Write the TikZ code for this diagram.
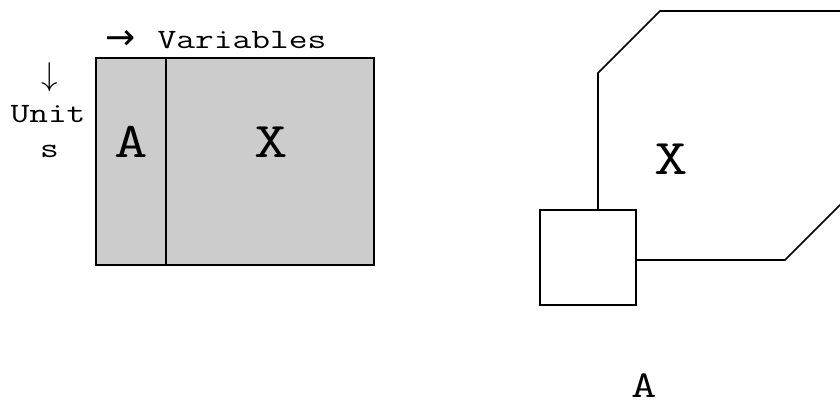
\documentclass[tikz,border=0pt]{standalone}
\usepackage{fontspec}
\usepackage{graphicx}
\newfontfamily\symfont{DejaVu Sans}
\definecolor{cellgray}{HTML}{CCCCCC}
% typewriter letters set a little wider than Latin Modern Mono's own
\newcommand\wideText[1]{\scalebox{1.3}[1]{#1}}
\begin{document}
\begin{tikzpicture}[x=1pt,y=-1pt,
  txt/.style={inner sep=0pt, anchor=base, font=\ttfamily\fontsize{28}{33}\selectfont},
  big/.style={inner sep=0pt, anchor=base, font=\ttfamily\fontsize{50}{58}\selectfont},
  mid/.style={inner sep=0pt, anchor=base, font=\ttfamily\fontsize{38}{44}\selectfont},
  outline/.style={draw=black, line width=1.6pt},
]
\useasboundingbox (0,0) rectangle (840,403);
\clip (0,0) rectangle (840,403);

% data matrix: units by variables, split into A and X
\path[outline, fill=cellgray] (96,58) rectangle (374,265);
\coordinate (divtop) at (166,58);
\coordinate (divbot) at (166,265);
\draw[outline] (divtop) -- (divbot);
\node[big] (amat) at (131,158) {\wideText{A}};
\node[big] (xmat) at (271,158) {\wideText{X}};

% axis labels
\node[inner sep=0pt, anchor=base west, font=\symfont\fontsize{36}{42}\selectfont]
  (arrow) at (105,50) {→};
\node[txt] (vars) at (242,49) {\wideText{Variables}};
\node[inner sep=0pt, anchor=base] (down) at (49.5,86) {\scalebox{3.3}{$\downarrow$}};
\node[txt] (unit) at (48,123) {\wideText{Unit}};
\node[txt] (unitS) at (49.5,158) {\wideText{s}};

% region X with the block A attached at its corner
\path[outline] (598,260) -- (598,73) -- (660,11) -- (880,11) -- (880,165)
  -- (785,260) -- cycle;
\path[outline, fill=white] (540,210) rectangle (636,305);
\node[big] (xset) at (671,175) {\wideText{X}};
\node[mid] (aset) at (644,397) {\wideText{A}};
\end{tikzpicture}
\end{document}
